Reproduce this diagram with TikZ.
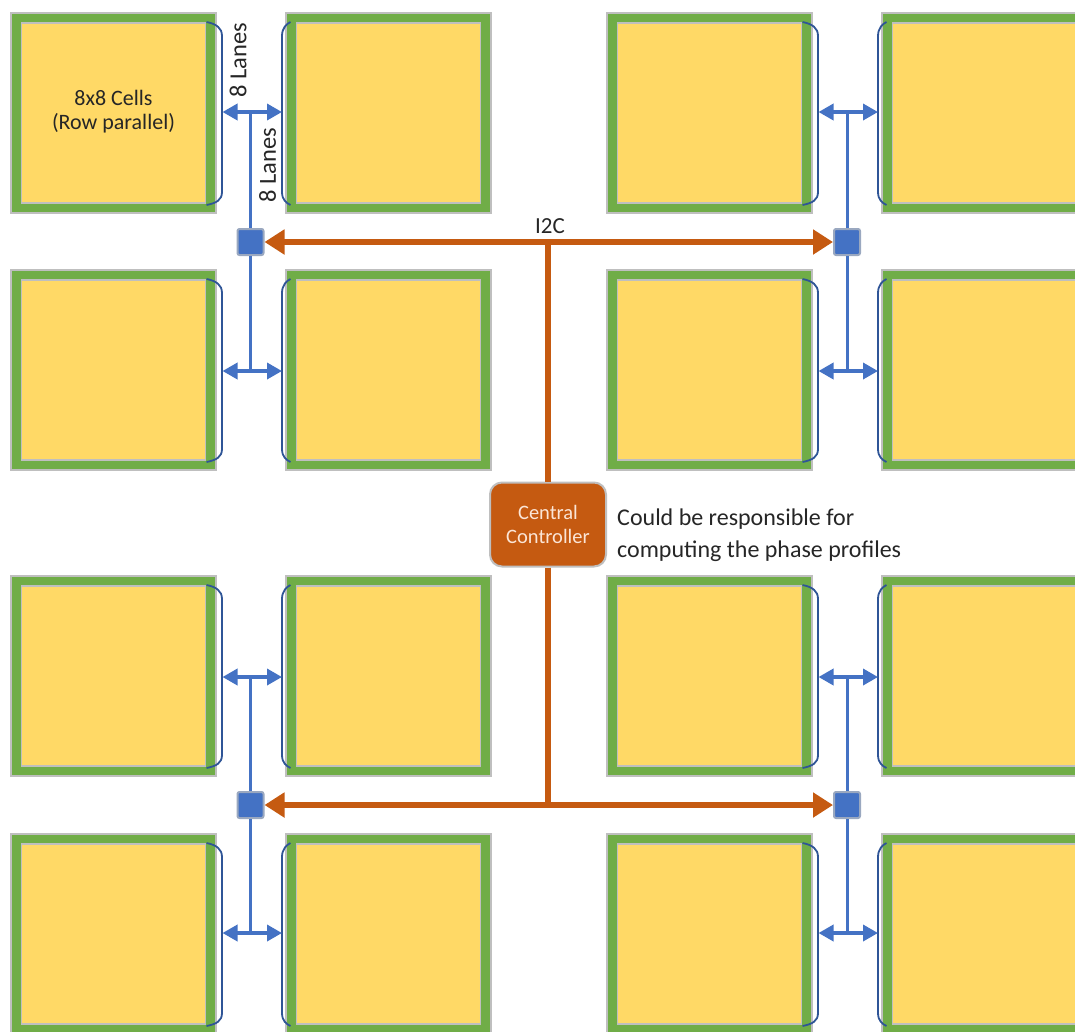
\documentclass[tikz,border=0pt]{standalone}
\usepackage{fontspec}
\setmainfont{Carlito}
\usetikzlibrary{arrows.meta,calc}
\definecolor{tgreen}{HTML}{70AD47}
\definecolor{tyellow}{HTML}{FFD966}
\definecolor{tgray}{HTML}{BFBFBF}
\definecolor{bblue}{HTML}{4472C4}
\definecolor{bdark}{HTML}{2F5597}
\definecolor{corange}{HTML}{C55A11}
\definecolor{ctext}{HTML}{FBE5D6}
\tikzset{
  tile/.style={draw=tgray, line width=2pt, fill=tgreen, minimum width=205pt, minimum height=200pt, inner sep=0pt, outer sep=0pt},
  cellbox/.style={draw=tgray, line width=1.2pt, fill=tyellow, minimum width=184pt, minimum height=180pt, inner sep=0pt},
  bracket/.style={draw=bdark, line width=1.8pt},
  barrow/.style={draw=bblue, line width=3.5pt, {Triangle[length=15pt,width=16pt]}-{Triangle[length=15pt,width=16pt]}},
  bline/.style={draw=bblue, line width=3pt},
  sq/.style={draw=tgray!70!bblue, line width=2pt, fill=bblue, minimum width=26pt, minimum height=26pt, inner sep=0pt, rounded corners=2pt},
  oarrow/.style={draw=corange, line width=6.5pt, {Triangle[length=20pt,width=24pt]}-{Triangle[length=20pt,width=24pt]}},
  oline/.style={draw=corange, line width=6.5pt},
  ctrlbox/.style={draw=tgray, line width=2pt, fill=corange, rounded corners=12pt, minimum width=116pt, minimum height=84pt, inner sep=0pt, align=center, text=ctext, font=\fontsize{20.5pt}{24pt}\selectfont},
  lbl/.style={inner sep=0pt, font=\fontsize{23pt}{28pt}\selectfont, text=black!85},
}
\begin{document}
\begin{tikzpicture}[x=1pt,y=-1pt]
\useasboundingbox (0,0) rectangle (1075,1031);
\clip (0,0) rectangle (1075,1031);
\fill[white] (0,0) rectangle (1075,1031);
% tiles
\foreach \c/\x in {1/113.5,2/388.5,3/709.5,4/984.5}{
  \foreach \r/\y in {1/113,2/370,3/676,4/934}{
    \node[tile] (t\r\c) at (\x,\y) {};
    \node[cellbox] (c\r\c) at (\x,\y) {};
  }
}
% brackets: right side of columns 1 and 3, left side of columns 2 and 4
\foreach \x in {113.5,709.5}{
  \foreach \y in {113,370,676,934}{
    \draw[bracket] (\x+93,\y-91) .. controls (\x+103,\y-89) and (\x+108.5,\y-85) .. (\x+108.5,\y-77)
      -- (\x+108.5,\y+79) .. controls (\x+108.5,\y+87) and (\x+103,\y+90) .. (\x+93,\y+92);
  }
}
\foreach \x in {388.5,984.5}{
  \foreach \y in {113,370,676,934}{
    \draw[bracket] (\x-98,\y-91) .. controls (\x-102,\y-89) and (\x-106.5,\y-85) .. (\x-106.5,\y-77)
      -- (\x-106.5,\y+79) .. controls (\x-106.5,\y+87) and (\x-102,\y+90) .. (\x-98,\y+92);
  }
}
% lane arrow end points
\foreach \r/\y in {1/112,2/371,3/677,4/933}{
  \coordinate (la\r) at (222.5,\y);
  \coordinate (lb\r) at (282,\y);
  \coordinate (ra\r) at (818.5,\y);
  \coordinate (rb\r) at (878,\y);
  \coordinate (lj\r) at (250.5,\y);
  \coordinate (rj\r) at (847,\y);
  \draw[barrow] (la\r) -- (lb\r);
  \draw[barrow] (ra\r) -- (rb\r);
}
% squares
\node[sq] (sqTL) at (250.5,242) {};
\node[sq] (sqTR) at (847,242) {};
\node[sq] (sqBL) at (250.5,805) {};
\node[sq] (sqBR) at (847,805) {};
\draw[bline] (lj1) -- (sqTL) -- (lj2);
\draw[bline] (rj1) -- (sqTR) -- (rj2);
\draw[bline] (lj3) -- (sqBL) -- (lj4);
\draw[bline] (rj3) -- (sqBR) -- (rj4);
% central controller and I2C bus
\node[ctrlbox] (ctrl) at (548,524.5) {Central\\Controller};
\coordinate (jt) at (548,242);
\coordinate (jb) at (548,805);
\draw[oline] (ctrl) -- (jt);
\draw[oline] (ctrl) -- (jb);
\draw[oarrow] (sqTL) -- (sqTR);
\draw[oarrow] (sqBL) -- (sqBR);
\node[lbl, anchor=base] (i2c) at (550,233) {I2C};
% labels
\node[lbl, align=center, font=\fontsize{22pt}{24pt}\selectfont] (cells) at (113.5,112) {8x8 Cells\\(Row parallel)};
\node[lbl, rotate=90, font=\fontsize{24.5pt}{28pt}\selectfont] (lanes1) at (238,60.5) {8 Lanes};
\node[lbl, rotate=90, font=\fontsize{24.5pt}{28pt}\selectfont] (lanes2) at (267.5,165.5) {8 Lanes};
\node[lbl, align=left, anchor=west, font=\fontsize{24pt}{32pt}\selectfont] (note) at (617,535) {Could be responsible for\\computing the phase profiles};
\end{tikzpicture}
\end{document}
